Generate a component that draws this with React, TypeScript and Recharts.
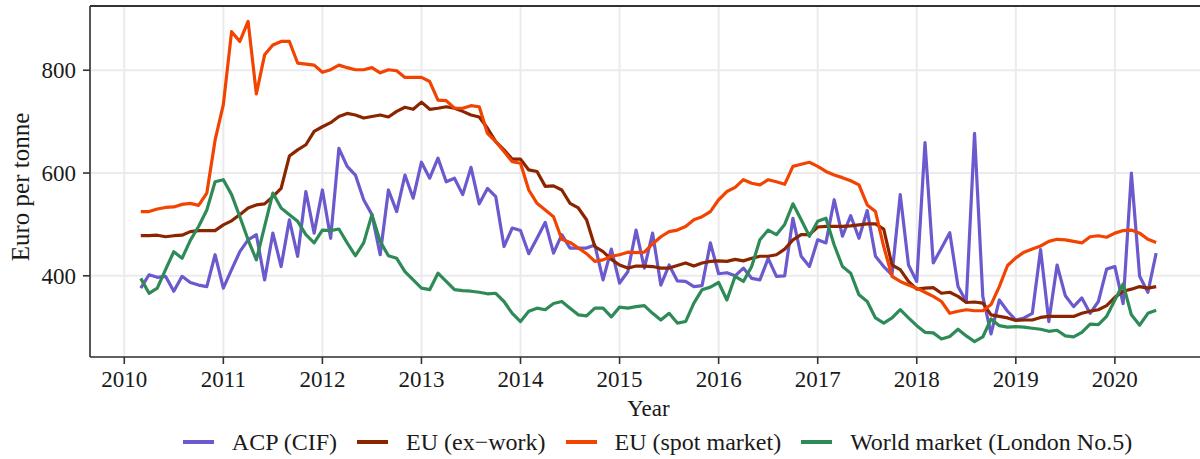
import React from 'react';
import { LineChart, Line, XAxis, YAxis, CartesianGrid, ReferenceLine, Legend } from 'recharts';

// Monthly observations, March 2010 – June 2020 (euro per tonne)
const START_YEAR = 2010;
const START_MONTH = 3;

const acpCif = [
  376, 402, 397, 399, 370, 399, 387, 382, 379, 441, 376, 412, 447, 470, 480, 392, 483, 418, 509, 438, 564, 483, 567,
  473, 648, 613, 596, 548, 519, 441, 567, 525, 596, 551, 621, 590, 629, 583, 590, 558, 611, 540, 570, 554, 457, 493, 488, 443, 473, 504, 444,
  480, 454, 454, 454, 460, 392, 452, 386, 408, 489, 415, 483, 382, 421, 390, 389, 379, 381, 464, 404, 406, 400, 415, 395, 392, 434, 399, 400,
  512, 438, 418, 470, 464, 548, 477, 517, 473, 527, 438, 418, 402, 558, 421, 389, 659, 425, 454, 484, 379, 350, 677, 360, 287, 353,
  331, 314, 318, 327, 451, 311, 421, 361, 340, 357, 327, 350, 413, 418, 346, 600, 399, 368, 444,
];

const euExWork = [
  478, 478, 479, 476, 478, 479, 486, 488, 488, 488, 499, 507, 519, 532, 538, 540, 554, 570, 633, 645, 655, 681, 690,
  698, 710, 716, 713, 707, 710, 713, 709, 720, 728, 724, 738, 724, 726, 729, 726, 720, 713, 709, 687, 661, 645, 627, 627, 606, 603, 574, 575,
  567, 541, 532, 509, 457, 447, 432, 421, 415, 419, 419, 418, 415, 415, 420, 425, 419, 425, 428, 429, 428, 432, 429, 434, 438, 438, 441, 452,
  470, 480, 480, 495, 496, 496, 496, 497, 499, 501, 501, 491, 421, 412, 389, 374, 376, 377, 366, 368, 360, 348, 349, 347, 324, 321,
  318, 313, 314, 314, 319, 321, 321, 321, 321, 327, 331, 334, 342, 358, 370, 374, 379, 376, 379,
];

const euSpot = [
  525, 525, 530, 533, 534, 539, 541, 537, 561, 664, 733, 875, 856, 895, 754, 830, 849, 856, 856, 814, 812, 810, 796,
  801, 810, 805, 801, 801, 805, 795, 801, 799, 786, 786, 786, 778, 742, 741, 726, 726, 731, 729, 677, 661, 642, 622, 619, 567, 541, 528, 515,
  471, 465, 454, 443, 428, 431, 438, 441, 446, 445, 446, 462, 476, 486, 489, 496, 509, 515, 525, 548, 564, 572, 587, 580, 577, 587, 583, 578,
  613, 617, 621, 613, 603, 596, 591, 585, 577, 538, 525, 457, 399, 389, 382, 376, 368, 360, 350, 327, 331, 334, 332, 332, 344, 379,
  420, 435, 446, 452, 458, 467, 471, 470, 467, 464, 476, 478, 475, 483, 488, 489, 483, 471, 465,
];

const worldLondon5 = [
  395, 366, 376, 412, 447, 434, 469, 496, 528, 583, 587, 558, 515, 470, 431, 496, 561, 532, 519, 506, 480, 464, 489,
  488, 491, 464, 439, 464, 519, 467, 439, 434, 408, 392, 376, 373, 405, 389, 373, 371, 370, 368, 365, 366, 350, 327, 311, 331, 337, 334, 346,
  350, 337, 324, 322, 337, 337, 320, 339, 337, 340, 342, 327, 314, 327, 308, 311, 347, 373, 378, 387, 353, 399, 389, 418, 470, 489, 480, 500,
  540, 509, 477, 506, 512, 460, 418, 405, 363, 350, 318, 308, 318, 334, 318, 303, 290, 289, 277, 282, 296, 283, 272, 281, 316, 303,
  300, 301, 300, 298, 296, 292, 294, 283, 281, 290, 306, 305, 321, 353, 384, 324, 304, 327, 333,
];

const yearTicks = [2010, 2011, 2012, 2013, 2014, 2015, 2016, 2017, 2018, 2019, 2020];
const valueTicks = [400, 600, 800];

const SERIES = [
  { key: 'acp', name: 'ACP (CIF)', color: '#6A5ACD', values: acpCif },
  { key: 'euEx', name: 'EU (ex\u2212work)', color: '#8B2500', values: euExWork },
  { key: 'euSpot', name: 'EU (spot market)', color: '#F24400', values: euSpot },
  { key: 'world', name: 'World market (London No.5)', color: '#2E8B57', values: worldLondon5 },
];

const data = acpCif.map((_, i) => {
  const row: Record<string, number> = { t: START_YEAR + (START_MONTH - 1 + i) / 12 };
  SERIES.forEach((s) => {
    row[s.key] = s.values[i];
  });
  return row;
});

const FONT = '"Liberation Serif", "Times New Roman", serif';
const TEXT = '#1a1a1a';
const FRAME = '#333333';
const X_DOMAIN: [number, number] = [2009.654, 2020.93];
const Y_DOMAIN: [number, number] = [242, 925];

const renderLegend = () => (
  <div
    style={{
      display: 'flex',
      justifyContent: 'center',
      alignItems: 'center',
      height: 28,
      fontFamily: FONT,
      fontSize: 24,
      color: TEXT,
      whiteSpace: 'nowrap',
    }}
  >
    {SERIES.map((s, i) => (
      <div key={s.key} style={{ display: 'flex', alignItems: 'center', marginLeft: i ? 20 : 0 }}>
        <div style={{ width: 31, height: 4, background: s.color }} />
        <span style={{ marginLeft: 18 }}>{s.name}</span>
      </div>
    ))}
  </div>
);

const YLabel = () => (
  <text
    x={20}
    y={187}
    transform="rotate(-90 20 187)"
    textAnchor="middle"
    dominantBaseline="central"
    fontFamily={FONT}
    fontSize={25}
    fill={TEXT}
  >
    Euro per tonne
  </text>
);

const XLabel = (props: any) => {
  const vb = props.viewBox || {};
  const cx = (vb.x ?? 90) + (vb.width ?? 1117) / 2;
  return (
    <text x={cx} y={408} textAnchor="middle" dominantBaseline="central" fontFamily={FONT} fontSize={23} fill={TEXT}>
      Year
    </text>
  );
};

export default function App() {
  return (
    <div style={{ position: 'absolute', left: 0, top: 0, width: 1200, height: 459, overflow: 'hidden', background: '#fff' }}>
      <LineChart width={1207} height={459} data={data} margin={{ top: 6, right: 0, left: 0, bottom: 0 }}>
        <CartesianGrid stroke="#EBEBEB" strokeWidth={2} />
        <XAxis
          type="number"
          dataKey="t"
          domain={X_DOMAIN}
          ticks={yearTicks}
          allowDataOverflow
          height={102}
          interval={0}
          tickSize={7}
          tickMargin={7}
          axisLine={{ stroke: FRAME, strokeWidth: 1.6 }}
          tickLine={{ stroke: FRAME, strokeWidth: 1.6 }}
          tick={{ fontFamily: FONT, fontSize: 23, fill: TEXT }}
          label={<XLabel />}
        />
        <YAxis
          type="number"
          domain={Y_DOMAIN}
          ticks={valueTicks}
          allowDataOverflow
          width={90}
          interval={0}
          tickSize={7}
          tickMargin={7}
          axisLine={{ stroke: FRAME, strokeWidth: 1.6 }}
          tickLine={{ stroke: FRAME, strokeWidth: 1.6 }}
          tick={{ fontFamily: FONT, fontSize: 23, fill: TEXT }}
          label={<YLabel />}
        />
        <ReferenceLine y={Y_DOMAIN[1]} stroke={FRAME} strokeWidth={2} ifOverflow="extendDomain" />
        {SERIES.map((s) => (
          <Line
            key={s.key}
            type="linear"
            dataKey={s.key}
            name={s.name}
            stroke={s.color}
            strokeWidth={3.2}
            strokeLinejoin="round"
            dot={false}
            activeDot={false}
            isAnimationActive={false}
          />
        ))}
        <Legend
          verticalAlign="middle"
          align="center"
          layout="horizontal"
          content={renderLegend}
          wrapperStyle={{ top: 428, left: 0, width: 1315, height: 28 }}
        />
      </LineChart>
    </div>
  );
}
